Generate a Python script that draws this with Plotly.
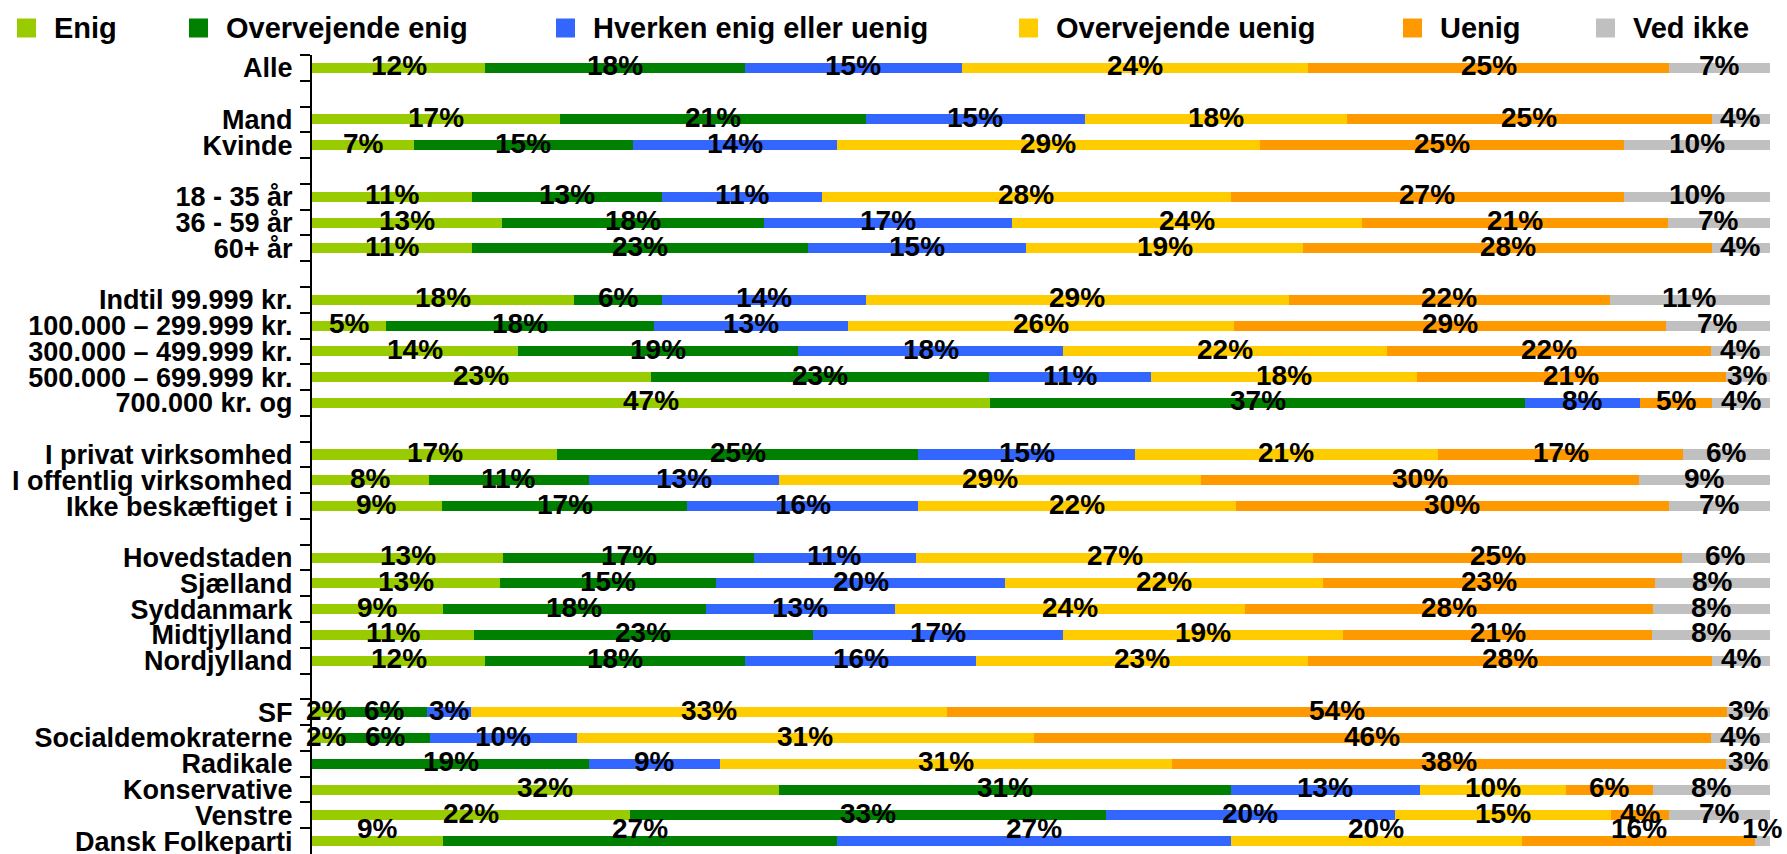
import plotly.graph_objects as go

# ---------------- data ----------------
series_names = ["Enig", "Overvejende enig", "Hverken enig eller uenig",
                "Overvejende uenig", "Uenig", "Ved ikke"]
series_colors = ["#99cc00", "#008000", "#3366ff", "#ffcc00", "#ff9900", "#c0c0c0"]

categories = ["Alle",
              "Mand", "Kvinde",
              "18 - 35 år", "36 - 59 år", "60+ år",
              "Indtil 99.999 kr.", "100.000 – 299.999 kr.", "300.000 – 499.999 kr.",
              "500.000 – 699.999 kr.", "700.000 kr. og",
              "I privat virksomhed", "I offentlig virksomhed", "Ikke beskæftiget i",
              "Hovedstaden", "Sjælland", "Syddanmark", "Midtjylland", "Nordjylland",
              "SF", "Socialdemokraterne", "Radikale", "Konservative", "Venstre",
              "Dansk Folkeparti"]
group_sizes = [1, 2, 3, 5, 3, 5, 6]

enig        = [12, 17, 7, 11, 13, 11, 18, 5, 14, 23, 47, 17, 8, 9, 13, 13, 9, 11, 12, 2, 2, 0, 32, 22, 9]
overv_enig  = [18, 21, 15, 13, 18, 23, 6, 18, 19, 23, 37, 25, 11, 17, 17, 15, 18, 23, 18, 6, 6, 19, 31, 33, 27]
hverken     = [15, 15, 14, 11, 17, 15, 14, 13, 18, 11, 8, 15, 13, 16, 11, 20, 13, 17, 16, 3, 10, 9, 13, 20, 27]
overv_uenig = [24, 18, 29, 28, 24, 19, 29, 26, 22, 18, 0, 21, 29, 22, 27, 22, 24, 19, 23, 33, 31, 31, 10, 15, 20]
uenig       = [25, 25, 25, 27, 21, 28, 22, 29, 22, 21, 5, 17, 30, 30, 25, 23, 28, 21, 28, 54, 46, 38, 6, 4, 16]
ved_ikke    = [7, 4, 10, 10, 7, 4, 11, 7, 4, 3, 4, 6, 9, 7, 6, 8, 8, 8, 4, 3, 4, 3, 8, 7, 1]

series_values = [enig, overv_enig, hverken, overv_uenig, uenig, ved_ikke]

# ---------------- layout constants ----------------
W, H = 1787, 854
ML, MR, MT, MB = 312, 17, 55, 0
FONT = "Liberation Sans"
BAR_WIDTH = 0.39
LABEL_SIZE = 28
TICK_SIZE = 27
LEGEND_SIZE = 29
legend_square_px = [17, 189, 556, 1019, 1403, 1596]
legend_square_size = 19
legend_text_offset = 35
legend_center_py = 28


def px_x(px):
    return (px - ML) / (W - ML - MR)


def px_y(py):
    return 1 - (py - MT) / (H - MT - MB)


# full category order with blank separator rows between groups
full_order = []
idx = 0
for g, size in enumerate(group_sizes):
    full_order.extend(categories[idx:idx + size])
    idx += size
    if g < len(group_sizes) - 1:
        full_order.append(" " * (g + 1))

fig = go.Figure()
for name, color, vals in zip(series_names, series_colors, series_values):
    fig.add_trace(go.Bar(
        y=categories, x=vals, name=name, orientation="h",
        width=BAR_WIDTH, marker=dict(color=color, line=dict(width=0)),
        showlegend=False, hoverinfo="skip",
    ))

annotations = []
# data labels centred on each segment
for i, cat in enumerate(categories):
    row = [s[i] for s in series_values]
    total = sum(row)
    cum = 0
    shift = 13 if i == len(categories) - 1 else 2
    for v in row:
        if v > 0:
            annotations.append(dict(
                x=(cum + v / 2) / total * 100, y=cat, xref="x", yref="y",
                text=f"{v}%", showarrow=False, yshift=shift,
                font=dict(family=FONT, size=LABEL_SIZE, color="black", weight="bold"),
            ))
        cum += v

# legend drawn on top
shapes = []
for name, color, sx in zip(series_names, series_colors, legend_square_px):
    shapes.append(dict(
        type="rect", xref="paper", yref="paper",
        x0=px_x(sx), x1=px_x(sx + legend_square_size),
        y0=px_y(legend_center_py - legend_square_size / 2),
        y1=px_y(legend_center_py + legend_square_size / 2),
        fillcolor=color, line=dict(width=0),
    ))
    annotations.append(dict(
        x=px_x(sx + legend_text_offset), y=px_y(legend_center_py),
        xref="paper", yref="paper", xanchor="left", yanchor="middle",
        text=name, showarrow=False,
        font=dict(family=FONT, size=LEGEND_SIZE, color="black", weight="bold"),
    ))

fig.update_layout(
    width=W, height=H,
    margin=dict(l=ML, r=MR, t=MT, b=MB, pad=0),
    barmode="stack", barnorm="percent",
    plot_bgcolor="white", paper_bgcolor="white",
    font=dict(family=FONT, color="black"),
    showlegend=False,
    annotations=annotations, shapes=shapes,
    xaxis=dict(range=[0, 100], visible=False, fixedrange=True),
    yaxis=dict(
        type="category", categoryorder="array", categoryarray=full_order,
        range=[len(full_order) - 0.5, -0.5], automargin=False,
        tickmode="linear", tick0=0, dtick=1,
        showline=True, linecolor="black", linewidth=2,
        ticks="outside", ticklen=10, tickwidth=2, tickcolor="black",
        tickson="boundaries", ticklabelstandoff=12,
        tickfont=dict(family=FONT, size=TICK_SIZE, color="black", weight="bold"),
        showgrid=False, zeroline=False, fixedrange=True,
    ),
)

fig.write_html("out.html", config={"displayModeBar": False},
               post_script="document.body.style.margin='0';document.body.style.overflow='hidden';")
